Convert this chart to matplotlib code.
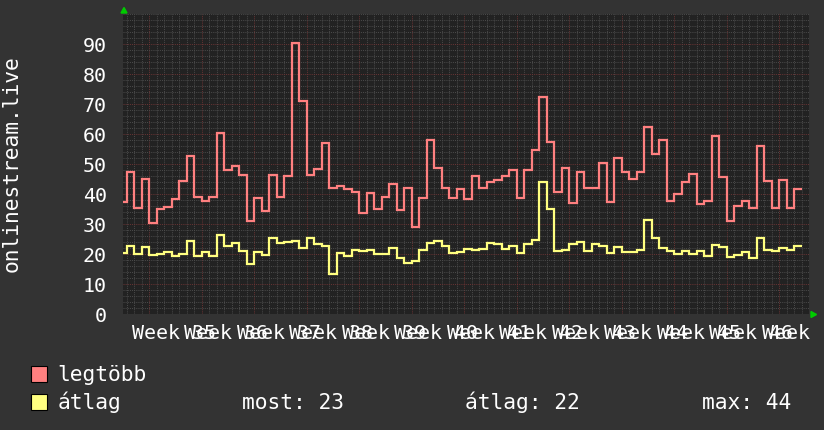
import numpy as np
import matplotlib
matplotlib.use("Agg")
import matplotlib.pyplot as plt
from matplotlib.patches import Rectangle, Polygon
from matplotlib.ticker import MultipleLocator
import matplotlib.transforms as mtransforms

# ---- data (daily steps, day 0 = start of Week 35) ----
day_start = -4
max_values = [37.4, 47.4, 35.2, 45.0, 30.2, 35.0, 35.8, 38.2, 44.4, 52.7,
              39.1, 37.8, 39.1, 60.4, 48.0, 49.3, 46.3, 31.0, 38.8, 34.4,
              46.4, 39.1, 46.0, 90.4, 71.1, 46.4, 48.3, 57.1, 41.9, 42.7,
              41.6, 40.8, 33.6, 40.4, 34.9, 39.1, 43.2, 34.7, 42.1, 29.1,
              38.8, 58.0, 48.8, 42.1, 38.6, 41.8, 38.3, 46.0, 42.1, 43.9,
              44.7, 46.0, 48.0, 38.6, 48.0, 54.7, 72.4, 57.3, 40.8, 48.6,
              36.9, 47.4, 42.1, 42.1, 50.4, 37.2, 52.1, 47.4, 45.0, 47.2,
              62.4, 53.2, 58.0, 37.8, 40.0, 44.1, 46.7, 36.7, 37.8, 59.3,
              45.6, 31.1, 36.0, 37.8, 35.4, 56.0, 44.4, 35.4, 44.7, 35.4,
              41.7]
avg_values = [20.2, 22.7, 20.0, 22.4, 19.8, 20.0, 20.6, 19.3, 20.0, 24.3,
              19.3, 20.8, 19.3, 26.3, 22.8, 23.8, 21.1, 16.7, 20.8, 19.7,
              25.4, 23.8, 24.1, 24.3, 22.1, 25.4, 23.2, 22.7, 13.2, 20.4,
              19.4, 21.5, 21.0, 21.3, 19.9, 19.9, 22.1, 18.6, 17.1, 17.8,
              21.3, 23.6, 24.3, 22.8, 20.2, 20.8, 21.7, 21.3, 21.7, 23.8,
              23.3, 21.7, 22.8, 20.4, 23.3, 24.7, 44.1, 34.9, 21.0, 21.3,
              23.2, 24.0, 21.0, 23.3, 22.7, 20.4, 22.4, 20.8, 20.8, 21.3,
              31.3, 25.2, 22.1, 21.1, 20.0, 21.0, 20.0, 21.1, 19.3, 23.0,
              22.4, 18.9, 19.7, 20.6, 18.8, 25.4, 21.3, 21.1, 22.1, 21.3,
              22.7]
week_labels = ["Week %d" % w for w in range(35, 48)]
y_ticks = list(range(0, 100, 10))
y_label = "onlinestream.live"
legend_names = ["legtöbb", "átlag"]
stats_text = ["most: 23", "átlag: 22", "max: 44"]

W, H = 824, 430
BG = "#333333"
PLOT_BG = "#222222"
RED = "#ff8080"
YEL = "#ffff80"
FONT = "DejaVu Sans Mono"

fig = plt.figure(figsize=(W / 100, H / 100), dpi=100, facecolor=BG)
px_l, px_r, px_t, px_b = 123.5, 809.0, 14.0, 314.0
ax = fig.add_axes([px_l / W, 1 - px_b / H, (px_r - px_l) / W, (px_b - px_t) / H],
                  facecolor=PLOT_BG)

x_left = (px_l - 149.3) / 7.5
x_right = (px_r - 149.3) / 7.5
ax.set_xlim(x_left, x_right)
ax.set_ylim(0, 100)

edges = np.arange(day_start, day_start + len(max_values) + 1)
ax.stairs(max_values, edges, baseline=None, color=RED, linewidth=1.6, zorder=3)
ax.stairs(avg_values, edges, baseline=None, color=YEL, linewidth=1.6, zorder=3)

# grid
ax.xaxis.set_major_locator(MultipleLocator(7))
ax.xaxis.set_minor_locator(MultipleLocator(1))
ax.yaxis.set_minor_locator(MultipleLocator(2))
ax.set_yticks(y_ticks)
ax.set_yticklabels([str(v) for v in y_ticks])
ax.grid(which="minor", color="#4c4c4c", linestyle=(0, (1, 1.2)), linewidth=0.7)
ax.grid(which="major", color="#6c3434", linestyle=(0, (1, 1.2)), linewidth=0.7)
ax.set_axisbelow(True)
ax.tick_params(axis="x", which="both", length=0, labelbottom=False)
ax.tick_params(axis="y", which="both", length=0, pad=11.9, labelsize=14.4,
               labelcolor="white")
for lab in ax.get_yticklabels():
    lab.set_fontfamily(FONT)
for s in ax.spines.values():
    s.set_visible(False)

# x labels (clipped at the right like the original canvas)
trans = mtransforms.blended_transform_factory(ax.transData, ax.transAxes)
clip_box = mtransforms.TransformedBbox(
    mtransforms.Bbox([[0, 0], [811 / W, 1]]), fig.transFigure)
for i, lab in enumerate(week_labels):
    t = ax.text(7 * i - 2.31, -25 / 300, lab, transform=trans, ha="left",
                va="baseline", color="white", fontsize=14.4, fontfamily=FONT)
    t.set_clip_on(True)
    t.set_clip_box(clip_box)

# y label
fig.text(11.5 / W, 1 - 164 / H, y_label, rotation=90, ha="center", va="center",
         color="white", fontsize=15.3, fontfamily=FONT)

# arrows
def fpt(x, y):
    return (x / W, 1 - y / H)

fig.patches.append(Polygon([fpt(121, 13), fpt(127, 13), fpt(124, 7.5)],
                           closed=True, color="#00cc00", transform=fig.transFigure))
fig.patches.append(Polygon([fpt(811, 311.5), fpt(811, 317.5), fpt(816.5, 314.5)],
                           closed=True, color="#00cc00", transform=fig.transFigure))

# legend
for (name, col, yb) in [(legend_names[0], RED, 381.5), (legend_names[1], YEL, 409.5)]:
    x0, y0 = fpt(31.5, yb)
    fig.patches.append(Rectangle((x0, y0), 15.5 / W, 15.5 / H, facecolor=col,
                                 edgecolor="black", linewidth=0.8,
                                 transform=fig.transFigure))
    fig.text(57.8 / W, 1 - (yb - 0.5) / H, name, ha="left", va="baseline",
             color="white", fontsize=15.3, fontfamily=FONT)

for txt, xp in zip(stats_text, [241.7, 465.0, 701.5]):
    fig.text(xp / W, 1 - 409 / H, txt, ha="left", va="baseline",
             color="white", fontsize=15.3, fontfamily=FONT)

fig.savefig("out.png", dpi=100, facecolor=BG)
